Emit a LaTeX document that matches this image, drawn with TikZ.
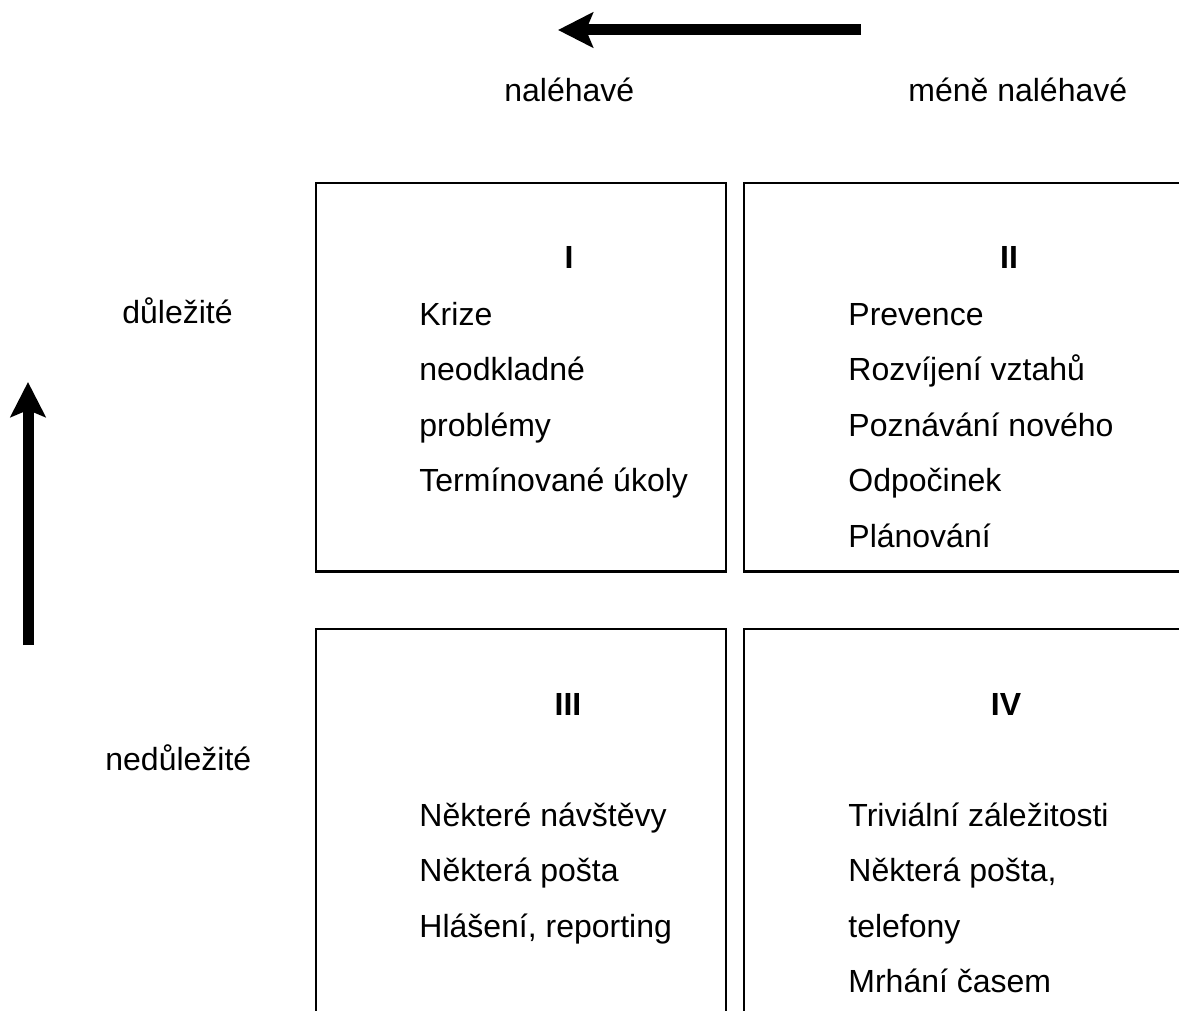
\documentclass[tikz,border=0pt]{standalone}
\usepackage{fontspec}
\setmainfont{Liberation Sans}
\usetikzlibrary{arrows.meta}

\begin{document}
\begin{tikzpicture}[
				x=0.5pt, y=-0.5pt,
				font=\fontsize{16}{19}\selectfont,
				quad/.style={draw, line width=1.1pt, rectangle, inner sep=0pt, outer sep=0pt},
				axislab/.style={anchor=base west, inner sep=0pt},
				numlab/.style={anchor=base, inner sep=0pt, font=\fontsize{16}{19}\selectfont\bfseries},
				item/.style={anchor=base west, inner sep=0pt},
				bigarrow/.style={line width=5.5pt, -{Stealth[length=17.5pt, width=17.5pt, inset=3.5pt]}}]

			\useasboundingbox (0,0) rectangle (1179,1011);
			\clip (0,0) rectangle (1179,1011);

			% axes
			\coordinate (urgtail) at (861,30);
			\coordinate (urgtip) at (558,30);
			\coordinate (imptail) at (28,645);
			\coordinate (imptip) at (28,382);
			\draw[bigarrow] (urgtail) -- (urgtip);
			\draw[bigarrow] (imptail) -- (imptip);

			\node[axislab] (urgent) at (504,102) {naléhavé};
			\node[axislab] (noturgent) at (908,102) {méně naléhavé};
			\node[axislab] (important) at (122,323) {důležité};
			\node[axislab] (notimportant) at (105,770) {nedůležité};

			% quadrants
			\node[quad, minimum width=205pt, minimum height=194.25pt] (quadI) at (521,377.25) {};
			\node[quad, minimum width=233pt, minimum height=194.25pt] (quadII) at (977,377.25) {};
			\node[quad, minimum width=205pt, minimum height=200.5pt] (quadIII) at (521,829.5) {};
			\node[quad, minimum width=233pt, minimum height=200.5pt] (quadIV) at (977,829.5) {};

			\node[numlab] (numI) at (569,268) {I};
			\node[numlab] (numII) at (1009,268) {II};
			\node[numlab] (numIII) at (568,715) {III};
			\node[numlab] (numIV) at (1006,715) {IV};

			% I
			\node[item] (krize) at (419,325) {Krize};
			\node[item] (neodkladne) at (419,380.5) {neodkladné};
			\node[item] (problemy) at (419,436) {problémy};
			\node[item] (terminovane) at (419,491.5) {Termínované úkoly};

			% II
			\node[item] (prevence) at (848,325) {Prevence};
			\node[item] (vztahy) at (848,380.5) {Rozvíjení vztahů};
			\node[item] (poznavani) at (848,436) {Poznávání nového};
			\node[item] (odpocinek) at (848,491.5) {Odpočinek};
			\node[item] (planovani) at (848,547) {Plánování};

			% III
			\node[item] (navstevy) at (419,826) {Některé návštěvy};
			\node[item] (posta) at (419,881.5) {Některá pošta};
			\node[item] (hlaseni) at (419,937) {Hlášení, reporting};

			% IV
			\node[item] (trivialni) at (848,826) {Triviální záležitosti};
			\node[item] (postatel) at (848,881.5) {Některá pošta,};
			\node[item] (telefony) at (848,937) {telefony};
			\node[item] (mrhani) at (848,992.5) {Mrhání časem};

		\end{tikzpicture}
\end{document}
